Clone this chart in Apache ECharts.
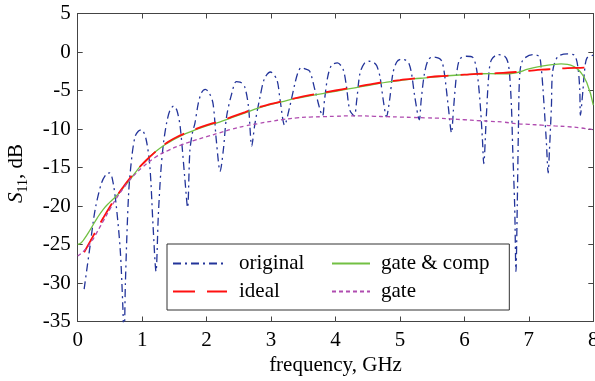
<!DOCTYPE html>
<html>
<head>
<meta charset="utf-8">
<title>S11 vs frequency</title>
<script src="https://cdn.jsdelivr.net/npm/echarts@6/dist/echarts.min.js"></script>
<style>
  html, body { margin: 0; padding: 0; background: #fff; }
  #main { width: 595px; height: 381px; }
</style>
</head>
<body>
<div id="main"></div>
<script>
// original (ungated) response
var origF = [0.10, 0.19, 0.27, 0.37, 0.45, 0.50, 0.55, 0.60, 0.66, 0.70, 0.72, 0.74, 0.79, 0.84, 0.89, 0.94, 0.99,
  1.06, 1.12, 1.17, 1.215, 1.25, 1.29, 1.33, 1.38, 1.43, 1.49, 1.54, 1.59, 1.66, 1.705, 1.74, 1.78, 1.82, 1.87, 1.92, 1.98,
  2.04, 2.10, 2.15, 2.21, 2.26, 2.31, 2.39, 2.46, 2.52, 2.59, 2.65, 2.70, 2.75, 2.83, 2.90, 2.99,
  3.09, 3.14, 3.21, 3.29, 3.37, 3.42, 3.47, 3.53, 3.60, 3.68, 3.76, 3.80, 3.83, 3.88, 3.94,
  4.03, 4.12, 4.17, 4.22, 4.29, 4.33, 4.38, 4.45, 4.52, 4.60, 4.64, 4.69, 4.74, 4.79, 4.84, 4.89, 4.95,
  5.02, 5.10, 5.14, 5.18, 5.23, 5.30, 5.33, 5.38, 5.44, 5.51, 5.60, 5.65, 5.69, 5.75, 5.80, 5.83, 5.88, 5.93,
  6.03, 6.13, 6.19, 6.24, 6.28, 6.30, 6.34, 6.38, 6.42, 6.52, 6.62, 6.67, 6.70, 6.73, 6.75, 6.78, 6.80, 6.82, 6.84, 6.86, 6.91,
  7.06, 7.16, 7.19, 7.22, 7.27, 7.30, 7.32, 7.35, 7.37, 7.45, 7.60, 7.71, 7.76, 7.79, 7.80, 7.84, 7.86, 7.90, 8.00];
var origDb = [-30.8, -25.3, -20.5, -17.0, -15.8, -15.7, -17.0, -20.1, -25.7, -33.0, -38.0, -30.0, -18.4, -13.6, -11.0, -10.3, -10.1,
  -11.3, -14.9, -22.7, -28.5, -21.4, -15.5, -11.9, -9.2, -7.6, -7.0, -7.6, -9.7, -16.2, -20.2, -12.9, -10.5, -9.2, -6.7, -5.3, -4.85,
  -5.3, -6.7, -11.4, -15.5, -12.7, -8.4, -5.4, -3.85, -3.9, -4.5, -7.1, -12.2, -9.3, -5.8, -3.4, -2.6,
  -3.6, -6.2, -9.5, -7.1, -4.1, -2.6, -2.0, -2.2, -2.5, -4.9, -7.5, -8.3, -6.2, -3.2, -1.7,
  -1.4, -2.3, -4.5, -7.5, -8.3, -6.2, -2.75, -1.45, -1.2, -1.4, -1.8, -3.2, -6.2, -8.4, -6.2, -2.8, -1.3,
  -0.95, -1.1, -1.5, -2.8, -5.8, -8.8, -6.2, -2.8, -1.0, -0.65, -0.8, -1.2, -2.8, -7.1, -10.5, -7.5, -2.8, -0.9,
  -0.55, -0.7, -2.3, -6.2, -11.4, -14.5, -8.4, -2.8, -1.0, -0.35, -0.5, -1.2, -2.8, -7.1, -12.7, -20.0, -28.5, -20.0, -9.0, -2.8, -1.0,
  -0.35, -0.6, -1.9, -4.9, -11.4, -15.7, -12.7, -7.1, -2.5, -0.6, -0.25, -0.45, -1.9, -4.9, -8.2, -4.9, -2.8, -0.8, -0.4];

var idealF = [0.1, 0.2, 0.3, 0.4, 0.5, 0.6, 0.7, 0.8, 0.9, 1.0, 1.2, 1.4, 1.6, 1.8, 2.0, 2.2, 2.4, 2.6, 2.8, 3.0,
  3.2, 3.4, 3.6, 3.8, 4.0, 4.2, 4.4, 4.6, 4.8, 5.0, 5.2, 5.4, 5.6, 5.8, 6.0, 6.2, 6.4, 6.6, 6.8, 7.0, 7.2, 7.4, 7.6, 7.8, 8.0];
var idealDb = [-26.0, -24.5, -23.0, -21.5, -20.1, -18.8, -17.6, -16.5, -15.5, -14.6, -13.0, -11.7, -10.8, -10.1, -9.5, -9.0, -8.4, -7.8, -7.2, -6.75,
  -6.35, -5.95, -5.6, -5.3, -5.0, -4.7, -4.4, -4.1, -3.85, -3.65, -3.45, -3.3, -3.15, -3.05, -2.95, -2.85, -2.8, -2.7, -2.6, -2.45, -2.3, -2.2, -2.1, -2.05, -2.0];

var compF = [0, 0.05, 0.1, 0.2, 0.3, 0.4, 0.5, 0.6, 0.7, 0.8, 0.9, 1.0, 1.2, 1.4, 1.6, 1.8, 2.0, 2.2, 2.4, 2.6, 2.8, 3.0,
  3.2, 3.4, 3.6, 3.8, 4.0, 4.2, 4.4, 4.6, 4.8, 5.0, 5.2, 5.4, 5.6, 5.8, 6.0, 6.2, 6.4, 6.6, 6.8, 7.0, 7.2, 7.4, 7.5, 7.6, 7.7, 7.8, 7.9, 8.0];
var compDb = [-25.0, -24.8, -24.3, -23.0, -21.6, -20.4, -19.5, -18.7, -17.7, -16.7, -15.6, -14.6, -13.0, -11.8, -10.9, -10.2, -9.6, -9.1, -8.5, -7.9, -7.3, -6.8,
  -6.4, -6.0, -5.7, -5.4, -5.1, -4.8, -4.5, -4.2, -3.9, -3.7, -3.5, -3.35, -3.2, -3.05, -2.95, -2.85, -2.8, -2.85, -2.7, -2.2, -1.85, -1.6, -1.55, -1.6, -1.9, -2.6, -4.0, -6.9];

var gateF = [0, 0.1, 0.2, 0.3, 0.4, 0.5, 0.6, 0.7, 0.8, 0.9, 1.0, 1.2, 1.4, 1.6, 1.8, 2.0, 2.2, 2.4, 2.6, 2.8, 3.0,
  3.2, 3.4, 3.6, 3.8, 4.0, 4.2, 4.4, 4.6, 4.8, 5.0, 5.2, 5.4, 5.6, 5.8, 6.0, 6.2, 6.4, 6.6, 6.8, 7.0, 7.2, 7.4, 7.6, 7.8, 8.0];
var gateDb = [-26.5, -25.8, -24.8, -23.4, -21.9, -20.4, -19.0, -17.8, -16.7, -15.8, -15.0, -13.7, -12.8, -12.1, -11.5, -11.0, -10.5, -10.0, -9.6, -9.3, -9.0,
  -8.75, -8.55, -8.45, -8.4, -8.35, -8.3, -8.3, -8.35, -8.4, -8.45, -8.5, -8.55, -8.6, -8.7, -8.8, -8.9, -9.0, -9.1, -9.3, -9.4, -9.5, -9.6, -9.7, -9.85, -10.1];

function pairs(f, v) {
    return f.map(function (x, i) { return [x, v[i]]; });
}

var font = '"Liberation Serif", "Times New Roman", serif';
var axisColor = '#444';

var chart = echarts.init(document.getElementById('main'));

function xAxis(pos, labels) {
    return {
        type: 'value', position: pos, min: 0, max: 8, interval: 1,
        axisLine: { onZero: false, lineStyle: { color: axisColor, width: 1 } },
        axisTick: { inside: true, length: 5, lineStyle: { color: axisColor } },
        axisLabel: { show: labels, margin: 8, color: '#000', fontFamily: font, fontSize: 21 },
        splitLine: { show: false }
    };
}
function yAxis(pos, labels) {
    return {
        type: 'value', position: pos, min: -35, max: 5, interval: 5,
        axisLine: { onZero: false, lineStyle: { color: axisColor, width: 1 } },
        axisTick: { inside: true, length: 5, lineStyle: { color: axisColor } },
        axisLabel: { show: labels, margin: 7, color: '#000', fontFamily: font, fontSize: 21 },
        splitLine: { show: false }
    };
}

var xb = xAxis('bottom', true);
xb.name = 'frequency, GHz';
xb.nameLocation = 'middle';
xb.nameGap = 33;
xb.nameMoveOverlap = false;
xb.nameTextStyle = { color: '#000', fontFamily: font, fontSize: 21 };

var yl = yAxis('left', true);
yl.name = '{s|S}{sub|11}{t|, dB}';
yl.nameLocation = 'middle';
yl.nameGap = 47;
yl.nameMoveOverlap = false;
yl.nameTextStyle = {
    color: '#000', fontFamily: font, fontSize: 21,
    padding: [0, 12, 0, 0],
    rich: {
        s: { fontFamily: font, fontSize: 21, fontStyle: 'italic', color: '#000', lineHeight: 28, verticalAlign: 'middle' },
        sub: { fontFamily: font, fontSize: 14, color: '#000', lineHeight: 14, verticalAlign: 'bottom' },
        t: { fontFamily: font, fontSize: 21, color: '#000', lineHeight: 28, verticalAlign: 'middle' }
    }
};

// legend shows only the line, no marker dot
var noDot = { color: 'transparent', borderColor: 'transparent', borderWidth: 0, opacity: 0 };

var option = {
    animation: false,
    backgroundColor: '#fff',
    grid: { left: 77.7, right: 1.7, top: 13.5, bottom: 59.5, containLabel: false, outerBoundsMode: 'none' },
    xAxis: [xb, xAxis('top', false)],
    yAxis: [yl, yAxis('right', false)],
    legend: [{
        orient: 'vertical', left: 167, top: 244,
        data: ['original', 'ideal'],
        itemWidth: 54, itemHeight: 14, itemGap: 7,
        padding: [9, 205, 8, 5],
        borderColor: '#333', borderWidth: 1, backgroundColor: '#fff',
        selectedMode: false,
        itemStyle: noDot,
        textStyle: { fontFamily: font, fontSize: 21, color: '#000', lineHeight: 20, padding: [0, 0, 0, 7] }
    }, {
        orient: 'vertical', left: 331, top: 253, z: 6,
        data: ['gate & comp', 'gate'],
        itemWidth: 38, itemHeight: 14, itemGap: 7,
        padding: 0,
        selectedMode: false,
        itemStyle: noDot,
        textStyle: { fontFamily: font, fontSize: 21, color: '#000', lineHeight: 20, padding: [0, 0, 0, 6] }
    }],
    series: [{
        name: 'original', type: 'line', symbol: 'none', smooth: 0.3,
        data: pairs(origF, origDb),
        lineStyle: { color: '#23349a', width: 1.3, type: [8, 4, 2, 4] },
        itemStyle: { color: '#23349a' }
    }, {
        name: 'gate & comp', type: 'line', symbol: 'none', smooth: true,
        data: pairs(compF, compDb),
        lineStyle: { color: '#72c043', width: 1.3, type: 'solid' },
        itemStyle: { color: '#72c043' }
    }, {
        name: 'ideal', type: 'line', symbol: 'none', smooth: true,
        data: pairs(idealF, idealDb),
        lineStyle: { color: '#ff1010', width: 1.8, type: [22, 12] },
        itemStyle: { color: '#ff1010' }
    }, {
        name: 'gate', type: 'line', symbol: 'none', smooth: true,
        data: pairs(gateF, gateDb),
        lineStyle: { color: '#b04cb0', width: 1.3, type: [4, 3] },
        itemStyle: { color: '#b04cb0' }
    }]
};

chart.setOption(option);
window.onresize = chart.resize;
</script>
</body>
</html>
